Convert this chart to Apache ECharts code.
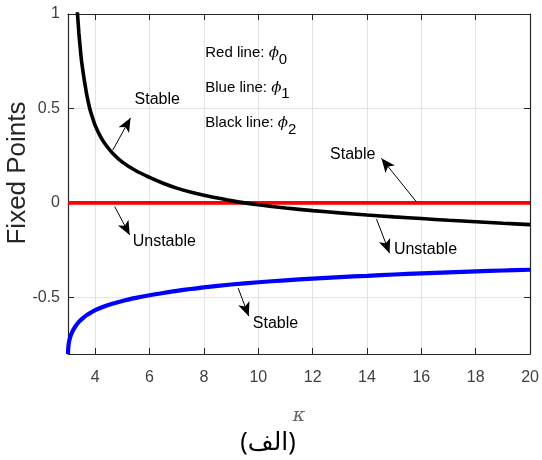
<!DOCTYPE html>
<html>
<head>
<meta charset="utf-8">
<script src="https://cdn.jsdelivr.net/npm/echarts@6/dist/echarts.min.js"></script>
<style>
html,body{margin:0;padding:0;background:#fff;}
#chart{width:542px;height:460px;}
</style>
</head>
<body>
<div id="chart"></div>
<script>
// ---- data ----
const RED_K = [3, 20];
const RED_V = [0, 0];

const BLUE_K = [3.0, 3.005, 3.015, 3.03, 3.06, 3.1, 3.15, 3.2, 3.3, 3.4, 3.55, 3.7, 3.85, 4.0, 4.3, 4.6, 5.0, 5.5, 6.0, 6.5, 7.0, 7.5, 8.0, 9.0, 10, 11, 12, 13, 14, 15, 16, 17, 18, 19, 20];
const BLUE_V = [-0.80, -0.78, -0.76, -0.742, -0.722, -0.703, -0.685, -0.671, -0.648, -0.630, -0.610, -0.593, -0.580, -0.568, -0.550, -0.535, -0.519, -0.503, -0.489, -0.477, -0.466, -0.456, -0.447, -0.432, -0.420, -0.410, -0.401, -0.393, -0.386, -0.379, -0.373, -0.368, -0.363, -0.358, -0.354];

const BLACK_K = [3.32, 3.35, 3.40, 3.45, 3.5, 3.6, 3.7, 3.8, 3.9, 4.0, 4.2, 4.4, 4.65, 5.0, 5.5, 6.0, 6.5, 7.0, 7.5, 8.0, 8.5, 9.0, 9.5, 10, 11, 12, 13, 14, 15, 16, 17, 18, 19, 20];
const BLACK_V = [1.05, 1.00, 0.90, 0.82, 0.75, 0.65, 0.565, 0.50, 0.452, 0.410, 0.350, 0.305, 0.262, 0.216, 0.170, 0.135, 0.104, 0.078, 0.058, 0.041, 0.026, 0.012, 0.0, -0.010, -0.027, -0.041, -0.053, -0.064, -0.074, -0.083, -0.092, -0.100, -0.108, -0.115];

const X_TICKS = [4, 6, 8, 10, 12, 14, 16, 18, 20];
const Y_TICKS = [-0.5, 0, 0.5, 1];

// annotation arrows: [fromK, fromV, toK, toV]
const ARROWS = [
  [4.65, 0.28, 5.30, 0.45],
  [4.72, -0.02, 5.27, -0.17],
  [15.81, 0.007, 14.53, 0.236],
  [14.35, -0.086, 14.83, -0.266],
  [9.26, -0.451, 9.65, -0.60]
];
// annotation labels: [k, v, text]
const NOTES = [
  [5.45, 0.545, 'Stable'],
  [5.38, -0.206, 'Unstable'],
  [12.64, 0.254, 'Stable'],
  [14.99, -0.249, 'Unstable'],
  [9.80, -0.637, 'Stable']
];
const LEGEND_NOTES = [
  [8.05, 0.794, 'Red line: ', '0'],
  [8.05, 0.609, 'Blue line: ', '1'],
  [8.05, 0.423, 'Black line: ', '2']
];

const FONT = "'Liberation Sans', Arial, sans-serif";
const zip = (a, b) => a.map((v, i) => [v, b[i]]);

const chart = echarts.init(document.getElementById('chart'), null, {renderer: 'canvas'});

const markPts = NOTES.map(n => ({
  coord: [n[0], n[1]], symbol: 'circle', symbolSize: 0,
  label: {show: true, position: 'right', distance: 0, formatter: n[2],
          color: '#000', fontFamily: FONT, fontSize: 16}
})).concat(LEGEND_NOTES.map(n => ({
  coord: [n[0], n[1]], symbol: 'circle', symbolSize: 0,
  label: {show: true, position: 'right', distance: 0,
          formatter: '{a|' + n[2] + '}{p|ϕ}{s|' + n[3] + '}',
          rich: {
            a: {color: '#000', fontFamily: FONT, fontSize: 15},
            p: {color: '#000', fontFamily: 'DejaVu Serif', fontStyle: 'italic', fontSize: 15},
            s: {color: '#000', fontFamily: FONT, fontSize: 15, padding: [13, 0, 0, 0]}
          }}
})));

const option = {
  animation: false,
  backgroundColor: '#fff',
  grid: {left: 68, right: 9, top: 14, bottom: 106, containLabel: false},
  xAxis: [{
    type: 'value', min: 3, max: 20, minInterval: 2, maxInterval: 2,
    name: 'κ', nameLocation: 'middle', nameGap: 53,
    nameTextStyle: {fontFamily: 'DejaVu Serif', fontStyle: 'italic', fontSize: 19, color: '#666'},
    axisLine: {show: true, onZero: false, lineStyle: {color: '#262626', width: 1.2}},
    axisTick: {show: true, inside: true, length: 6, lineStyle: {color: '#262626'}},
    axisLabel: {color: '#404040', fontFamily: FONT, fontSize: 16, margin: 16,
      formatter: v => X_TICKS.indexOf(v) >= 0 ? String(v) : ''},
    splitLine: {show: true, lineStyle: {color: '#e3e3e3', width: 1}}
  }, {
    type: 'value', min: 3, max: 20, minInterval: 2, maxInterval: 2, position: 'top',
    axisLine: {show: true, onZero: false, lineStyle: {color: '#262626', width: 1.2}},
    axisTick: {show: true, inside: true, length: 6, lineStyle: {color: '#262626'}},
    axisLabel: {show: false}, splitLine: {show: false}
  }],
  yAxis: [{
    type: 'value', min: -0.8, max: 1, minInterval: 0.5, maxInterval: 0.5,
    axisLine: {show: true, onZero: false, lineStyle: {color: '#262626', width: 1.2}},
    axisTick: {show: true, inside: true, length: 6, lineStyle: {color: '#262626'}},
    axisLabel: {color: '#404040', fontFamily: FONT, fontSize: 16, margin: 8,
      formatter: v => Y_TICKS.indexOf(v) >= 0 ? String(v) : ''},
    splitLine: {show: true, lineStyle: {color: '#e3e3e3', width: 1}}
  }, {
    type: 'value', min: -0.8, max: 1, minInterval: 0.5, maxInterval: 0.5, position: 'right',
    axisLine: {show: true, onZero: false, lineStyle: {color: '#262626', width: 1.2}},
    axisTick: {show: true, inside: true, length: 6, lineStyle: {color: '#262626'}},
    axisLabel: {show: false}, splitLine: {show: false}
  }],
  graphic: [{
    type: 'text', x: 18, y: 173, rotation: Math.PI / 2,
    style: {text: 'Fixed Points', fontFamily: FONT, fontSize: 26,
            fill: '#262626', textAlign: 'center', textVerticalAlign: 'middle'}
  }, {
    type: 'text', x: 268, y: 443,
    style: {text: '(الف)', fontFamily: "'Noto Sans', 'DejaVu Sans', sans-serif", fontSize: 25,
            fill: '#000', textAlign: 'center', textVerticalAlign: 'middle'}
  }],
  series: [{
    type: 'line', name: 'phi0', data: zip(RED_K, RED_V), showSymbol: false,
    lineStyle: {color: '#ff0000', width: 3.6}, silent: true, z: 2
  }, {
    type: 'line', name: 'phi1', data: zip(BLUE_K, BLUE_V), showSymbol: false, smooth: 0.3,
    lineStyle: {color: '#0000ff', width: 4.2}, silent: true, z: 3
  }, {
    type: 'line', name: 'phi2', data: zip(BLACK_K, BLACK_V), showSymbol: false, smooth: 0.3,
    lineStyle: {color: '#000000', width: 3.6}, silent: true, z: 4
  }, {
    type: 'line', name: 'notes', data: [], silent: true, z: 5,
    markLine: {
      silent: true, animation: false,
      symbol: ['none', 'arrow'], symbolSize: [9, 14],
      lineStyle: {color: '#000', width: 1, type: 'solid'},
      label: {show: false},
      data: ARROWS.map(a => [{coord: [a[0], a[1]]}, {coord: [a[2], a[3]]}])
    },
    markPoint: {silent: true, animation: false, data: markPts}
  }]
};
chart.setOption(option);
</script>
</body>
</html>
